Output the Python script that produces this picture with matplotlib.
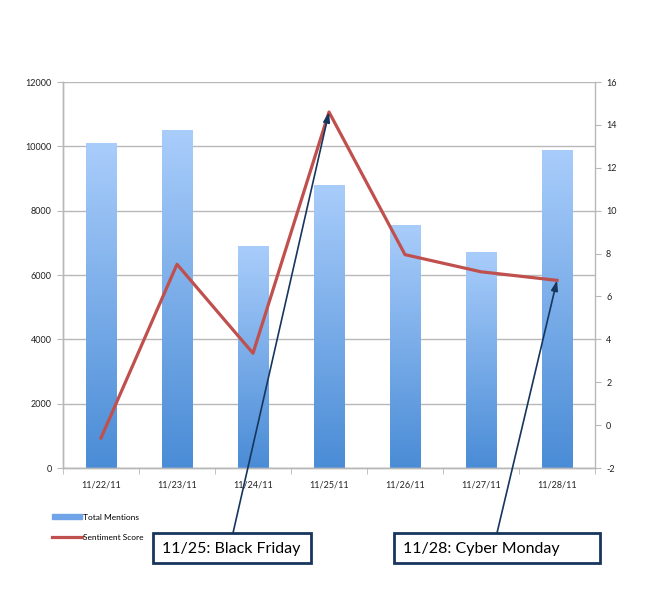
import numpy as np
import matplotlib
matplotlib.use("Agg")
import matplotlib.pyplot as plt
from matplotlib.patches import Rectangle
from matplotlib.colors import LinearSegmentedColormap
from matplotlib.lines import Line2D

plt.rcParams["axes.unicode_minus"] = False
plt.rcParams["font.family"] = ["Lato", "DejaVu Sans"]

dates = ["11/22/11", "11/23/11", "11/24/11", "11/25/11", "11/26/11", "11/27/11", "11/28/11"]
total_mentions = [10100, 10500, 6900, 8800, 7550, 6700, 9900]
sentiment = [-0.6, 7.5, 3.35, 14.6, 7.95, 7.15, 6.75]
callouts = [("11/25: Black Friday", 3), ("11/28: Cyber Monday", 6)]

W, H = 652, 600
fig = plt.figure(figsize=(W / 100, H / 100), dpi=100)
ax = fig.add_axes([63 / W, 1 - 468 / H, (595 - 63) / W, (468 - 82) / H])
ax2 = ax.twinx()

grey = "#b8b8b8"
x = np.arange(len(dates))
bars = ax.bar(x, total_mentions, width=0.4, color="#6fa5e8", zorder=2, label="Total Mentions")
cmap = LinearSegmentedColormap.from_list("g", ["#4a8cd6", "#a9cdfb"])
grad = np.linspace(0, 1, 256).reshape(-1, 1)
for b in bars:
    bx, by, bw, bh = b.get_x(), b.get_y(), b.get_width(), b.get_height()
    im = ax.imshow(grad, cmap=cmap, origin="lower", aspect="auto",
                   extent=[bx, bx + bw, by, by + bh], zorder=2.1)
    im.set_clip_path(b)

ax.set_xlim(-0.5, len(dates) - 0.5)
ax.set_ylim(0, 12000)
ax.set_yticks(np.arange(0, 12001, 2000))
ax.yaxis.grid(True, color=grey, linewidth=1)
ax.set_axisbelow(True)
ax.set_xticks(x)
ax.set_xticklabels(dates)
ax.set_xticks(np.arange(-0.5, len(dates), 1), minor=True)
ax.tick_params(axis="x", which="major", length=0, pad=9, labelsize=6.5, colors="#222222")
ax.tick_params(axis="x", which="minor", length=4, color=grey, direction="out")
ax.tick_params(axis="y", length=4, color=grey, labelsize=6.5, labelcolor="#222222", pad=4)

line, = ax2.plot(x, sentiment, color="#c0504d", linewidth=2.3, zorder=3, label="Sentiment Score")
ax2.set_ylim(-2, 16)
ax2.set_yticks(np.arange(-2, 17, 2))
ax2.tick_params(axis="y", length=4, color=grey, labelsize=6.5, labelcolor="#222222", pad=4)

for a in (ax, ax2):
    a.spines["top"].set_visible(False)
    for s in ("left", "right", "bottom"):
        a.spines[s].set_color(grey)
        a.spines[s].set_linewidth(1)
ax.spines["right"].set_visible(False)

legend_handles = [Rectangle((0, 0), 1, 1, color="#6fa5e8"),
                  Line2D([], [], color="#c0504d", linewidth=2.3)]
fig.legend(legend_handles, ["Total Mentions", "Sentiment Score"],
           loc="upper left", bbox_to_anchor=(44 / W, 1 - 506 / H),
           frameon=False, fontsize=6, handlelength=3.6, handleheight=0.5,
           handletextpad=0.15, labelspacing=1.6)

navy = "#17365d"
boxes = [(153, 533, 158, 30), (394, 533, 206, 30)]
starts = [233, 497]
for (label, idx), (bx, by, bw, bh), sx in zip(callouts, boxes, starts):
    rect = Rectangle((bx / W, 1 - (by + bh) / H), bw / W, bh / H, transform=fig.transFigure,
                     facecolor="white", edgecolor=navy, linewidth=2, zorder=5)
    fig.patches.append(rect)
    fig.text((bx + 9) / W, 1 - (by + bh / 2 + 1) / H, label, fontsize=11.5,
             va="center", ha="left", color="black", zorder=7)
    ax2.annotate("", xy=(idx, sentiment[idx]), xycoords="data",
                 xytext=(sx / W, 1 - by / H), textcoords="figure fraction",
                 arrowprops=dict(arrowstyle="-|>,head_length=0.6,head_width=0.2",
                                 color=navy, linewidth=1.2, shrinkA=0, shrinkB=0),
                 annotation_clip=False, zorder=6)

fig.savefig("out.png", dpi=100)
